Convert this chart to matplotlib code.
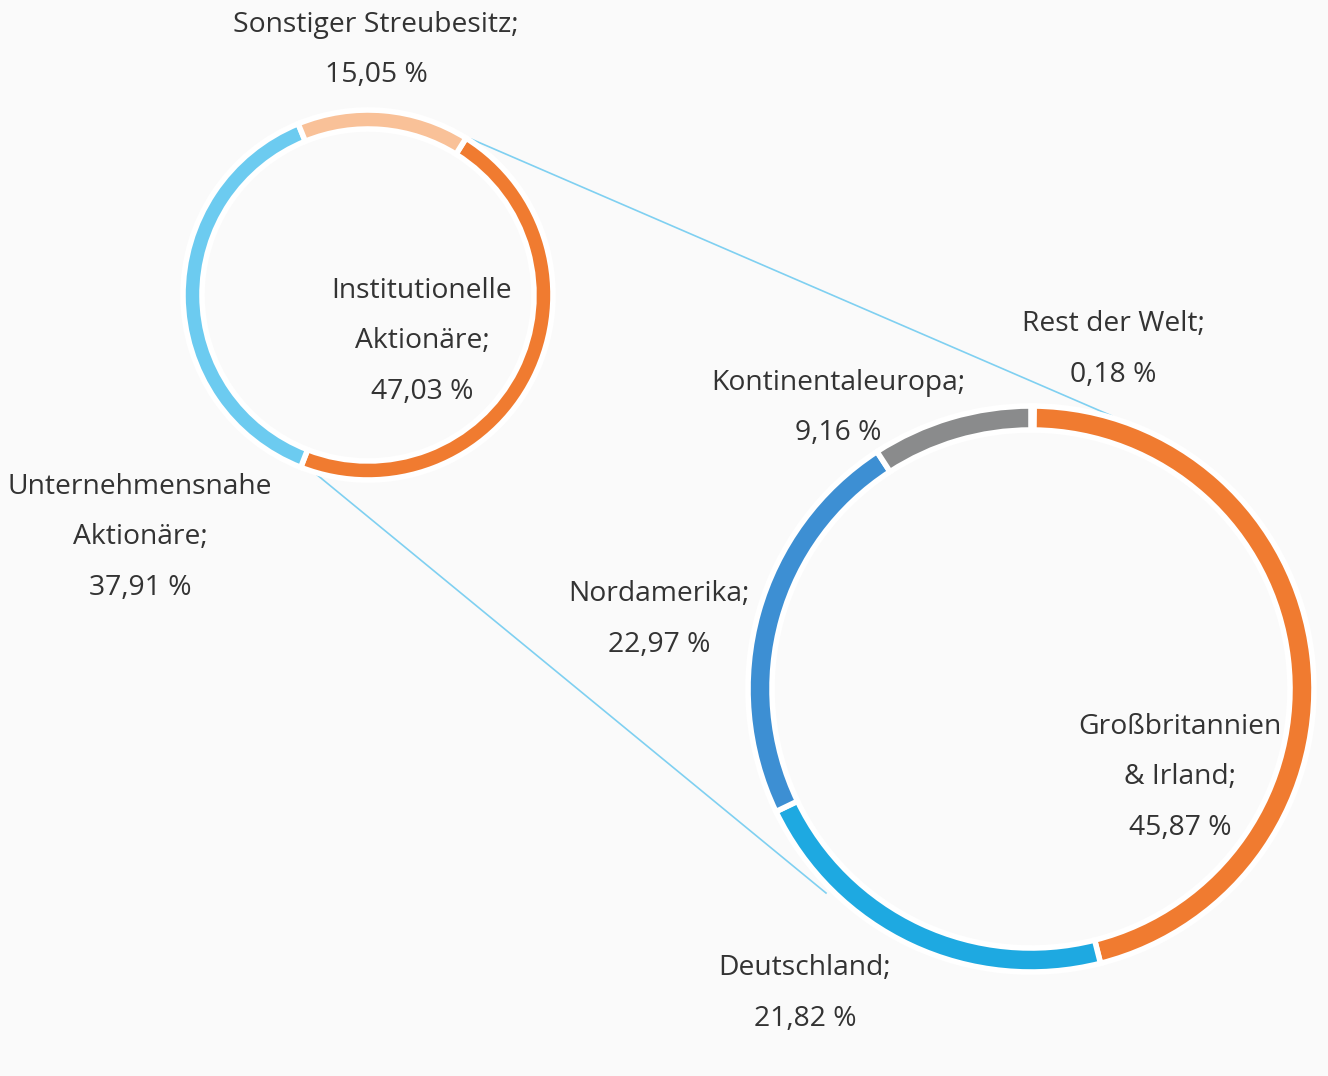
import matplotlib.pyplot as plt

# ================= DATA =================
W, H = 1328, 1076

outer_labels = ["Institutionelle\nAktionäre;", "Unternehmensnahe\nAktionäre;", "Sonstiger Streubesitz;"]
outer_values = [47.03, 37.91, 15.05]
outer_colors = ["#f07b30", "#6ccbf0", "#f9c198"]

region_labels = ["Rest der Welt;", "Großbritannien\n& Irland;", "Deutschland;", "Nordamerika;", "Kontinentaleuropa;"]
region_values = [0.18, 45.87, 21.82, 22.97, 9.16]
region_colors = ["#b0b0b0", "#f07b30", "#1ea9e1", "#3d8fd3", "#8a8b8c"]
# ========================================

BG = "#fafafa"
TXT = "#333333"
plt.rcParams["font.family"] = ["Open Sans", "DejaVu Sans"]


def Y(y):
    # picture rows run downwards, axes run upwards
    return H - y


fig = plt.figure(figsize=(W / 100, H / 100), dpi=100, facecolor=BG)
ax = fig.add_axes([0, 0, 1, 1])
ax.set_facecolor(BG)

# white edge strokes eat ~2px on each side, so widths are padded
# ---------- small ring (shareholder groups) ----------
ax.pie(outer_values, colors=outer_colors, radius=185, center=(368, Y(295)),
       startangle=58, counterclock=False,
       wedgeprops=dict(width=19, edgecolor="white", linewidth=4))

# ---------- big ring (institutional by region) ----------
ax.pie(region_values, colors=region_colors, radius=283, center=(1031, Y(689)),
       startangle=90, counterclock=False,
       wedgeprops=dict(width=24, edgecolor="white", linewidth=4))

# ---------- connector lines ----------
ax.plot([471, 1112], [Y(139), Y(416)], color="#7fd0f1", lw=1.2, zorder=0)
ax.plot([316, 826], [Y(474), Y(893)], color="#7fd0f1", lw=1.2, zorder=0)

# ---------- labels ----------
labels = [
    ("Sonstiger Streubesitz;", "15,05 %", 376, 22),
    ("Institutionelle\nAktionäre;", "47,03 %", 422, 288),
    ("Unternehmensnahe\nAktionäre;", "37,91 %", 140, 484),
    ("Rest der Welt;", "0,18 %", 1113, 321),
    ("Kontinentaleuropa;", "9,16 %", 838, 380),
    ("Nordamerika;", "22,97 %", 659, 591),
    ("Großbritannien\n& Irland;", "45,87 %", 1180, 724),
    ("Deutschland;", "21,82 %", 805, 965),
]
LINE = 50.5
for name, pct, x, y in labels:
    lines = name.split("\n") + [pct]
    for i, line in enumerate(lines):
        ax.text(x, Y(y + 3 + i * LINE), line, ha="center", va="center",
                fontsize=20.3, color=TXT)

ax.set_xlim(0, W)
ax.set_ylim(0, H)
ax.set_aspect("auto")
ax.axis("off")

plt.savefig("out.png", dpi=100, facecolor=BG)
plt.close()
